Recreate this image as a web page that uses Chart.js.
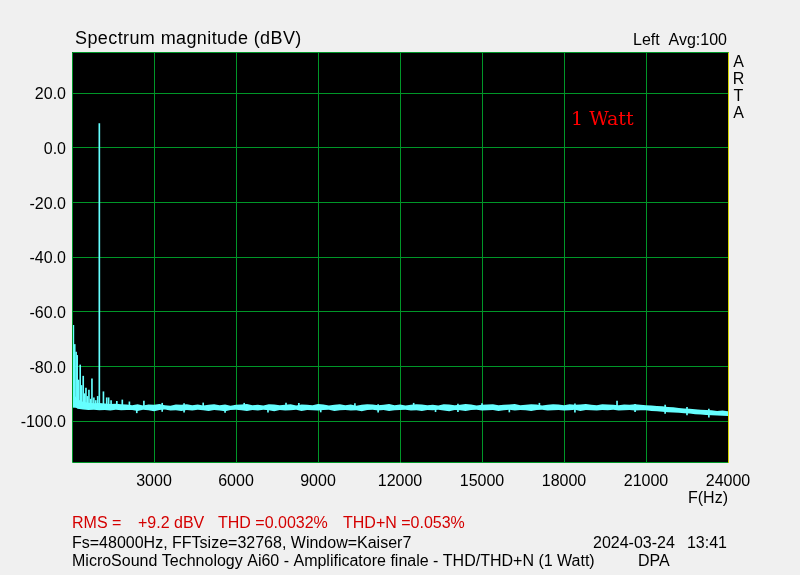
<!DOCTYPE html>
<html>
<head>
<meta charset="utf-8">
<title>Spectrum magnitude</title>
<script src="https://cdn.jsdelivr.net/npm/chart.js@4.4.1/dist/chart.umd.min.js"></script>
<style>
  html, body { margin: 0; padding: 0; background: #f0f0f0; }
  #wrap { width: 800px; height: 575px; }
</style>
</head>
<body>
<div id="wrap"><canvas id="spectrum" width="800" height="575"></canvas></div>
<script>
// tick labels
const xTickValues = [3000, 6000, 9000, 12000, 15000, 18000, 21000, 24000];
const yTickValues = [20, 0, -20, -40, -60, -80, -100];

// noise floor, one value every 200 Hz (0 .. 24000 Hz), upper and lower edge of the band
const noiseUpper = [
  -89.5, -92.0, -93.0, -93.3, -93.5, -93.4, -93.6, -93.8, -93.7, -93.9, -94.0,
  -94.2, -93.9, -94.3, -94.0, -94.1, -93.8, -94.2, -94.4, -94.0, -94.1,
  -93.9, -94.2, -94.0, -94.3, -94.1, -93.9, -94.2, -94.0, -94.4, -94.1,
  -94.0, -93.8, -94.2, -94.1, -94.3, -93.9, -94.0, -94.2, -94.1, -93.9,
  -94.3, -94.0, -94.1, -94.2, -93.8, -94.0, -94.3, -94.1, -93.9, -94.2,
  -94.0, -94.4, -94.1, -93.9, -94.0, -94.2, -94.1, -93.8, -94.2, -94.0,
  -94.3, -94.1, -93.9, -94.0, -94.2, -94.1, -94.3, -93.9, -94.0, -94.2,
  -94.1, -93.8, -94.0, -94.3, -94.1, -94.0, -93.9, -94.2, -94.1, -94.0,
  -93.8, -94.2, -94.1, -93.9, -94.0, -94.3, -94.1, -93.9, -94.0, -94.2,
  -93.9, -94.1, -94.0, -93.8, -94.1, -94.2, -93.9, -94.0, -94.1, -94.2,
  -94.0, -94.1, -93.9, -94.1,
  -94.2, -94.3, -94.5, -94.6, -94.9, -95.0, -95.2, -95.4, -95.5, -95.7,
  -95.9, -96.0, -96.1, -96.3, -96.2, -96.4
];
const noiseLower = [
  -94.0, -95.5, -95.8, -96.0, -95.9, -96.1, -96.0, -96.2, -95.9, -96.1, -96.0,
  -96.0, -96.3, -95.9, -96.1, -96.4, -96.0, -95.8, -96.2, -96.1, -96.3,
  -96.0, -96.2, -95.9, -96.1, -96.3, -96.0, -96.2, -96.4, -96.0, -95.9,
  -96.1, -96.3, -96.0, -96.2, -95.9, -96.1, -96.4, -96.0, -96.2, -96.1,
  -95.9, -96.3, -96.0, -96.1, -96.2, -96.0, -95.9, -96.3, -96.1, -96.0,
  -96.2, -96.1, -96.4, -96.0, -95.9, -96.2, -96.0, -96.3, -96.1, -96.0,
  -95.9, -96.2, -96.1, -96.3, -96.0, -96.1, -95.9, -96.2, -96.4, -96.0,
  -96.1, -96.3, -96.0, -95.9, -96.2, -96.1, -96.0, -96.3, -96.1, -95.9,
  -96.2, -96.0, -96.1, -96.3, -96.0, -95.9, -96.2, -96.1, -96.0, -96.2,
  -96.1, -95.9, -96.3, -96.0, -96.1, -96.2, -96.0, -96.1, -95.9, -96.2,
  -96.1, -96.0, -96.2, -96.1,
  -96.1, -96.3, -96.4, -96.6, -96.8, -96.9, -97.0, -97.2, -97.3, -97.5,
  -97.6, -97.8, -97.9, -98.0, -98.1, -98.2
];
const noiseStep = 200;

// fundamental, hum and harmonics: frequency (Hz), level (dBV)
const peakFreqs  = [50, 100, 150, 190, 240, 300, 350, 410, 460, 510, 560, 620, 680, 730, 800, 870, 940,
                    1000, 1150, 1270, 1340, 1430, 1640, 1840, 2100, 2630];
const peakLevels = [-65.0, -72.0, -74.8, -76.0, -85.0, -79.5, -87.0, -83.6, -90.0, -88.0, -91.0, -88.7, -92.0, -84.6, -91.5, -92.5, -91.0,
                    8.8, -89.3, -91.5, -91.5, -92.5, -92.8, -92.3, -93.0, -92.7];
const peakFloor = -95.0;

// single noise bins sticking out of the band: frequency (Hz), low and high level (dBV)
const spikeFreqs = [2370, 3300, 4100, 4800, 5600, 6300, 7170, 7830, 8300, 9100, 10350, 11200, 12500,
                    13300, 14120, 15000, 16000, 17100, 18400, 19940, 20600, 21700, 22500, 23300];
const spikeLow   = [-97.0, -96.5, -96.8, -95.0, -96.9, -95.0, -96.8, -95.0, -95.0, -96.7, -95.0, -96.8, -95.0,
                    -96.6, -96.6, -95.0, -96.7, -95.0, -96.8, -95.0, -96.6, -97.2, -97.8, -98.6];
const spikeHigh  = [-95.0, -93.5, -93.6, -93.4, -95.0, -93.5, -95.0, -93.4, -93.5, -95.0, -93.6, -94.0, -93.5,
                    -95.0, -93.8, -93.6, -95.0, -93.5, -93.7, -92.7, -93.9, -94.2, -95.0, -95.6];

const traceColor = '#66ffff';
const gridColor = 'rgb(0,150,40)';
const sans = "'Liberation Sans', Arial, sans-serif";

const upperPts = noiseUpper.map((v, i) => ({ x: i * noiseStep, y: v }));
const lowerPts = noiseLower.map((v, i) => ({ x: i * noiseStep, y: v }));
const peakPts = peakFreqs.map((f, i) => ({ x: f, y: [peakFloor, peakLevels[i]] }));
const spikePts = spikeFreqs.map((f, i) => ({ x: f, y: [spikeLow[i], spikeHigh[i]] }));

// page background, black plot area, frame and all the ARTA texts
const artaFrame = {
  id: 'artaFrame',
  beforeDraw(chart) {
    const { ctx, chartArea: a } = chart;
    ctx.save();
    ctx.fillStyle = '#f0f0f0';
    ctx.fillRect(0, 0, chart.width, chart.height);
    ctx.fillStyle = '#000';
    ctx.fillRect(a.left, a.top, a.right - a.left, a.bottom - a.top);
    ctx.restore();
  },
  afterDraw(chart) {
    const { ctx, chartArea: a } = chart;
    const l = Math.round(a.left) + 0.5, r = Math.round(a.right) + 0.5;
    const t = Math.round(a.top) + 0.5, b = Math.round(a.bottom) + 0.5;
    ctx.save();
    ctx.lineWidth = 1;
    ctx.strokeStyle = gridColor;
    ctx.beginPath();
    ctx.moveTo(l, b); ctx.lineTo(l, t); ctx.lineTo(r, t);
    ctx.moveTo(l, b); ctx.lineTo(r, b);
    ctx.stroke();
    ctx.strokeStyle = '#d4d400';
    ctx.beginPath();
    ctx.moveTo(r, t); ctx.lineTo(r, b + 0.5);
    ctx.stroke();

    ctx.textBaseline = 'alphabetic';
    ctx.fillStyle = '#000';
    ctx.font = '18px ' + sans;
    ctx.letterSpacing = '0.4px';
    ctx.textAlign = 'left';
    ctx.fillText('Spectrum magnitude (dBV)', 75, 44);
    ctx.letterSpacing = '0px';

    ctx.font = '16px ' + sans;
    ctx.textAlign = 'right';
    ctx.fillText('Left  Avg:100', 727, 45);
    ctx.fillText('F(Hz)', 728, 503);

    ctx.textAlign = 'center';
    ['A', 'R', 'T', 'A'].forEach((c, i) => ctx.fillText(c, 738.5, 67 + i * 17));

    ctx.textAlign = 'left';
    ctx.fillStyle = '#ff0000';
    ctx.font = "19px 'DejaVu Serif', serif";
    ctx.fillText('1 Watt', 571, 125);

    ctx.font = '16px ' + sans;
    ctx.fillStyle = '#d40000';
    ctx.fillText('RMS =', 72, 528);
    ctx.fillText('+9.2 dBV', 138, 528);
    ctx.fillText('THD =0.0032%', 218, 528);
    ctx.fillText('THD+N =0.053%', 343, 528);

    ctx.fillStyle = '#000';
    ctx.fillText('Fs=48000Hz, FFTsize=32768, Window=Kaiser7', 72, 548);
    ctx.fillText('2024-03-24', 593, 548);
    ctx.textAlign = 'right';
    ctx.fillText('13:41', 727, 548);
    ctx.textAlign = 'left';
    ctx.fillText('MicroSound Technology Ai60 - Amplificatore finale - THD/THD+N (1 Watt)', 72, 566);
    ctx.fillText('DPA', 638, 566);
    ctx.restore();
  }
};

const tickFont = { family: sans, size: 16 };

new Chart(document.getElementById('spectrum'), {
  type: 'line',
  data: {
    datasets: [
      { type: 'bar', data: peakPts, backgroundColor: traceColor, barThickness: 1, grouped: false },
      { type: 'bar', data: spikePts, backgroundColor: traceColor, barThickness: 1, grouped: false },
      { data: upperPts, borderColor: traceColor, borderWidth: 0, pointRadius: 0, fill: false },
      { data: lowerPts, borderColor: traceColor, backgroundColor: traceColor, borderWidth: 0, pointRadius: 0, fill: '-1' }
    ]
  },
  options: {
    responsive: false,
    animation: false,
    layout: { padding: { left: 0, top: 52, right: 72, bottom: 83 } },
    plugins: { legend: { display: false }, tooltip: { enabled: false } },
    scales: {
      x: {
        type: 'linear', min: 0, max: 24000, offset: false,
        afterBuildTicks: s => { s.ticks = xTickValues.map(v => ({ value: v })); },
        afterFit: s => { s.height = 30; },
        grid: { color: gridColor, drawTicks: false, offset: false },
        border: { display: false },
        ticks: { color: '#000', font: tickFont, padding: 10, maxRotation: 0, autoSkip: false,
                 callback: v => String(v) }
      },
      y: {
        min: -115, max: 35,
        afterBuildTicks: s => { s.ticks = yTickValues.map(v => ({ value: v })); },
        afterFit: s => { s.width = 72; },
        grid: { color: gridColor, drawTicks: false },
        border: { display: false },
        ticks: { color: '#000', font: tickFont, padding: 6, labelOffset: 2, callback: v => v.toFixed(1) }
      }
    }
  },
  plugins: [artaFrame]
});
</script>
</body>
</html>
